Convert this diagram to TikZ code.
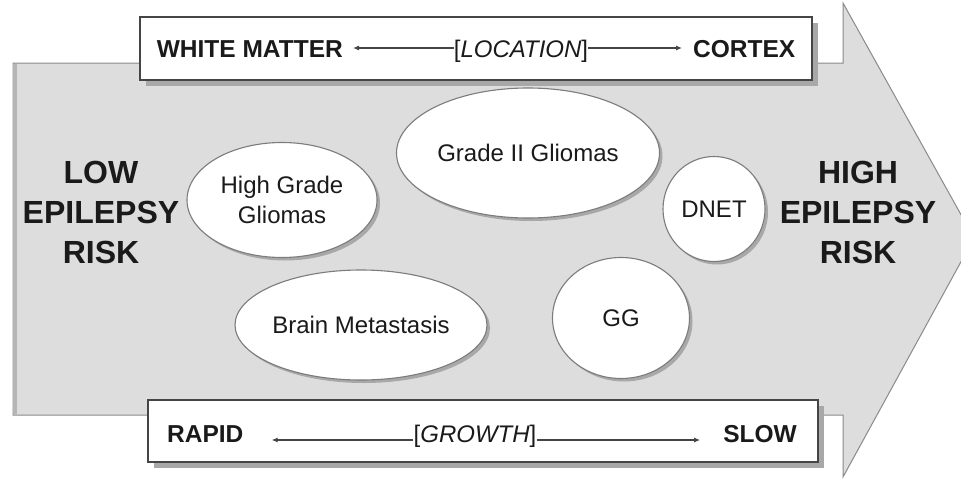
\documentclass[tikz,border=0pt]{standalone}
\usepackage{fontspec}
\setmainfont{Liberation Sans}
\usetikzlibrary{shapes.geometric,shadows,arrows.meta}
\definecolor{arrowfill}{HTML}{DDDDDD}
\definecolor{arrowline}{HTML}{8A8A8A}
\definecolor{edgestrip}{HTML}{B5B5B5}
\definecolor{bubbleline}{HTML}{7C7C7C}
\definecolor{shadowgray}{HTML}{A8A8A8}
\definecolor{boxline}{HTML}{454545}
\definecolor{ink}{HTML}{1A1A1A}
\begin{document}
\begin{tikzpicture}[x=1pt,y=-1pt,
  bubble/.style={ellipse, draw=bubbleline, line width=1.1pt, fill=white, inner sep=0pt,
    align=center, text=ink, font=\fontsize{24}{30}\selectfont,
    drop shadow={shadow xshift=3pt, shadow yshift=-3pt, fill=shadowgray, opacity=1}},
  infobox/.style={rectangle, draw=boxline, line width=1.5pt, fill=white, inner sep=0pt,
    drop shadow={shadow xshift=6pt, shadow yshift=-6pt, fill=shadowgray, opacity=1}},
  risk/.style={align=center, text=ink, inner sep=0pt, font=\fontsize{32}{40}\selectfont\bfseries},
  endlabel/.style={text=ink, inner sep=0pt, font=\fontsize{24.5}{28}\selectfont\bfseries},
  midlabel/.style={text=ink, inner sep=0pt, font=\fontsize{24}{28}\selectfont},
  pointer/.style={draw=boxline, line width=1.1pt, -{Latex[length=6pt,width=5pt]}}
]
\useasboundingbox (0,0) rectangle (961,479);
\clip (0,0) rectangle (961,479);
% big arrow
\fill[arrowfill] (13,63) -- (843,63) -- (843,3) -- (974,238) -- (843,477) -- (843,415) -- (13,415) -- cycle;
\draw[arrowline, line width=1pt] (13,63) -- (843,63) -- (843,3) -- (974,238) -- (843,477) -- (843,415) -- (13,415) -- cycle;
\draw[edgestrip, line width=4pt] (15,64) -- (15,414);

% boxes
\node[infobox, minimum width=672pt, minimum height=63pt] (topbox) at (476,48.5) {};
\node[infobox, minimum width=670pt, minimum height=62pt] (botbox) at (483,431) {};

% side labels
\node[risk] (low) at (101,212) {LOW\\EPILEPSY\\RISK};
\node[risk] (high) at (858,212) {HIGH\\EPILEPSY\\RISK};

% bubbles
\node[bubble, minimum width=190pt, minimum height=115pt] (hgg) at (282,200) {High Grade\\Gliomas};
\node[bubble, minimum width=263pt, minimum height=130pt] (g2) at (528,153) {Grade II Gliomas};
\node[bubble, minimum width=102pt, minimum height=105pt] (dnet) at (714,209) {DNET};
\node[bubble, minimum width=252pt, minimum height=110pt] (bm) at (361,325) {Brain Metastasis};
\node[bubble, minimum width=137pt, minimum height=121pt] (gg) at (621,318) {GG};

% top box content (baseline at 57)
\node[endlabel, anchor=base east] (wm) at (343,57) {WHITE MATTER};
\node[midlabel, anchor=base] (loc) at (521,57) {[\textit{LOCATION}]};
\node[endlabel, anchor=base west] (cortex) at (693,57) {CORTEX};
\draw[pointer, shorten >=10pt] ([yshift=9pt]loc.base west) -- ([yshift=9pt]wm.base east);
\draw[pointer, shorten >=11pt] ([yshift=9pt]loc.base east) -- ([yshift=9pt]cortex.base west);

% bottom box content (baseline at 442)
\node[endlabel, anchor=base west] (rapid) at (167,442) {RAPID};
\node[midlabel, anchor=base] (growth) at (475,442) {[\textit{GROWTH}]};
\node[endlabel, anchor=base east] (slow) at (797,442) {SLOW};
\draw[pointer, shorten >=28pt] ([yshift=2pt]growth.base west) -- ([yshift=2pt]rapid.base east);
\draw[pointer, shorten >=23pt] ([yshift=2pt]growth.base east) -- ([yshift=2pt]slow.base west);
\end{tikzpicture}
\end{document}
